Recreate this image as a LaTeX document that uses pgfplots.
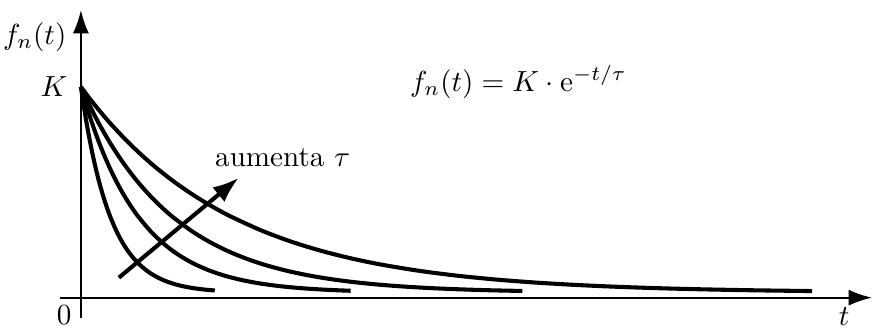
\documentclass[border=0pt]{standalone}
\usepackage{pgfplots}
\pgfplotsset{compat=1.18}
\usetikzlibrary{arrows.meta}

% curves: t and height in pixels from the origin
\begin{document}
\begin{tikzpicture}
\begin{axis}[
    x=0.343pt, y=0.343pt,
    xmin=-21, xmax=792,
    ymin=-20, ymax=288,
    enlargelimits=false,
    axis lines=middle,
    axis line style={line width=0.7pt, -{Latex[length=8pt,width=5.5pt]}},
    xtick=\empty, ytick=\empty,
    clip=false,
]
\addplot[black, line width=1.4pt, smooth, tension=0.5] coordinates {
    (0,211) (1.48,200.95) (2.95,191.40) (4.43,182.31) (5.9,173.66) (8.85,157.61)
    (11.8,143.09) (14.75,129.95) (17.7,118.06) (20.65,107.30) (23.6,97.56)
    (26.55,88.75) (29.5,80.78) (35.4,67.05) (41.3,55.80) (47.2,46.59)
    (53.1,39.05) (59,32.88) (66.38,26.71) (73.75,21.91) (81.13,18.17)
    (88.5,15.26) (95.88,12.99) (103.25,11.22) (110.63,9.84) (118,8.77)
    (125.38,7.94) (134,7.2)
};
\addplot[black, line width=1.4pt, smooth, tension=0.5] coordinates {
    (0,211) (2.89,200.95) (5.77,191.40) (8.66,182.31) (11.54,173.66) (17.31,157.61)
    (23.08,143.09) (28.85,129.95) (34.62,118.06) (40.39,107.30) (46.16,97.56)
    (51.93,88.75) (57.7,80.78) (69.24,67.05) (80.78,55.80) (92.32,46.59)
    (103.86,39.05) (115.4,32.88) (129.83,26.71) (144.25,21.91) (158.68,18.17)
    (173.1,15.26) (187.53,12.99) (201.95,11.22) (216.38,9.84) (230.8,8.77)
    (245.23,7.94) (259.65,7.29) (270,6.9)
};
\addplot[black, line width=1.4pt, smooth, tension=0.5] coordinates {
    (0,211) (4.6,200.95) (9.2,191.40) (13.8,182.31) (18.4,173.66) (27.6,157.61)
    (36.8,143.09) (46,129.95) (55.2,118.06) (64.4,107.30) (73.6,97.56)
    (82.8,88.75) (92,80.78) (110.4,67.05) (128.8,55.80) (147.2,46.59)
    (165.6,39.05) (184,32.88) (207,26.71) (230,21.91) (253,18.17)
    (276,15.26) (299,12.99) (322,11.22) (345,9.84) (368,8.77)
    (391,7.94) (414,7.29) (442,6.7)
};
\addplot[black, line width=1.4pt, smooth, tension=0.5] coordinates {
    (0,211) (7.55,200.95) (15.1,191.40) (22.65,182.31) (30.2,173.66) (45.3,157.61)
    (60.4,143.09) (75.5,129.95) (90.6,118.06) (105.7,107.30) (120.8,97.56)
    (135.9,88.75) (151,80.78) (181.2,67.05) (211.4,55.80) (241.6,46.59)
    (271.8,39.05) (302,32.88) (339.75,26.71) (377.5,21.91) (415.25,18.17)
    (453,15.26) (490.75,12.99) (528.5,11.22) (566.25,9.84) (604,8.77)
    (641.75,7.94) (679.5,7.29) (732,6.6)
};

% arrow "aumenta tau"
\draw[line width=1.4pt, -{Latex[length=9pt,width=6.5pt]}] (axis cs:38,20) -- (axis cs:158,120);
\node at (axis cs:202,140) {aumenta $\tau$};

% labels
\node[anchor=north east, inner sep=0pt] at (axis cs:-9,-7) {$0$};
\node[anchor=east, inner sep=0pt] at (axis cs:-13,211) {$K$};
\node[anchor=east, inner sep=0pt] at (axis cs:-14,261) {$f_n(t)$};
\node[anchor=north, inner sep=0pt] at (axis cs:764,-9) {$t$};
\node at (axis cs:438,216) {$f_n(t) = K\cdot \mathrm{e}^{-t/\tau}$};

% page size as in the reference
\path (axis cs:-81,-31) rectangle (axis cs:792,298);
\end{axis}
\end{tikzpicture}
\end{document}
